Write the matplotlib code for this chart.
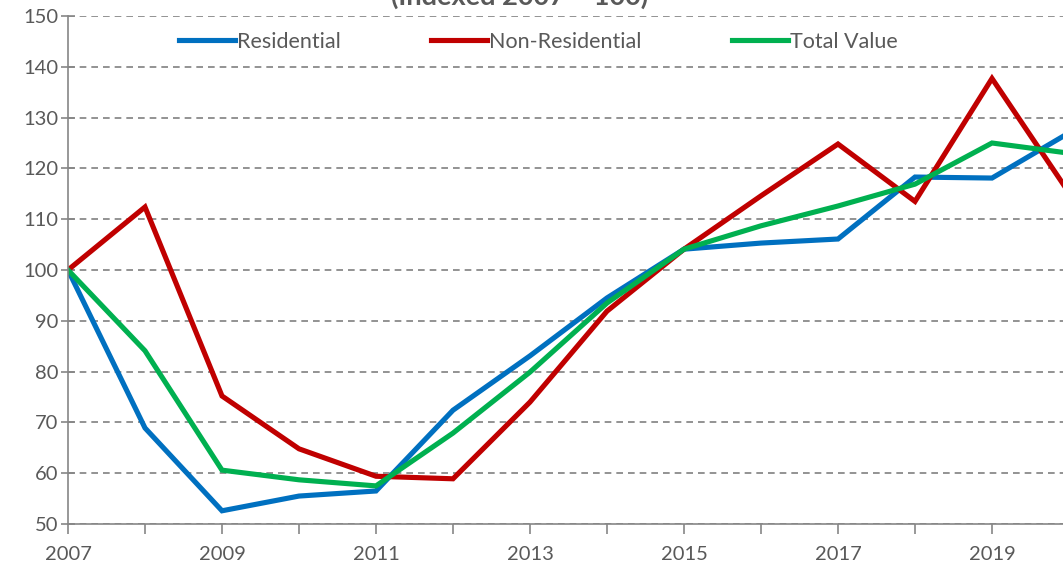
import numpy as np
import matplotlib.pyplot as plt

years = list(range(2007, 2021))
residential = [100, 68.9, 52.6, 55.5, 56.5, 72.4, 83.1, 94.5, 104.1, 105.3, 106.1, 118.3, 118.1, 127.0]
non_residential = [100, 112.4, 75.2, 64.8, 59.4, 58.9, 74.0, 91.9, 104.1, 114.6, 124.8, 113.5, 137.7, 115.2]
total_value = [100, 84.1, 60.6, 58.7, 57.5, 67.9, 79.9, 93.5, 104.1, 108.7, 112.6, 116.9, 125.0, 123.0]

plt.rcParams['font.family'] = ['Lato', 'DejaVu Sans']
text_col = '#595959'
axis_col = '#868686'

fig = plt.figure(figsize=(10.63, 5.69), dpi=100)
# the axes runs a little past the right edge, as in the cropped original
ax = fig.add_axes([68 / 1063, 1 - 524 / 569, 1001 / 1063, 508 / 569])

ax.plot(years, residential, color='#0070C0', lw=3.7, label='Residential', solid_joinstyle='miter')
ax.plot(years, non_residential, color='#C00000', lw=3.7, label='Non-Residential', solid_joinstyle='miter')
ax.plot(years, total_value, color='#00B050', lw=3.7, label='Total Value', solid_joinstyle='miter')

ax.set_xlim(2007, 2020)
ax.set_ylim(50, 150)
ax.set_yticks(np.arange(50, 151, 10))
ax.set_xticks(years)
ax.set_xticklabels([str(y) if y % 2 == 1 else '' for y in years])

ax.grid(axis='y', color='#808080', linestyle=(0, (4, 3)), lw=1.2)
ax.set_axisbelow(True)
for s in ['top', 'right']:
    ax.spines[s].set_visible(False)
for s in ['left', 'bottom']:
    ax.spines[s].set_color(axis_col)
    ax.spines[s].set_linewidth(1.2)

ax.tick_params(axis='y', direction='inout', length=10, width=1.2, color=axis_col,
               labelsize=14.5, labelcolor=text_col, pad=2)
ax.tick_params(axis='x', direction='out', length=7, width=1.2, color=axis_col,
               labelsize=14.5, labelcolor=text_col, pad=9)

ax.legend(loc='center', bbox_to_anchor=(0.47, 0.949), ncol=3, frameon=False,
          fontsize=15.5, labelcolor=text_col, handlelength=2.6, handletextpad=0.1,
          columnspacing=4.2)

fig.text(0.489, 1 - 9 / 569, '(Indexed 2007 = 100)', ha='center', va='bottom',
         fontsize=19.5, fontweight='bold', color=text_col)

fig.savefig('out.png', dpi=100)
